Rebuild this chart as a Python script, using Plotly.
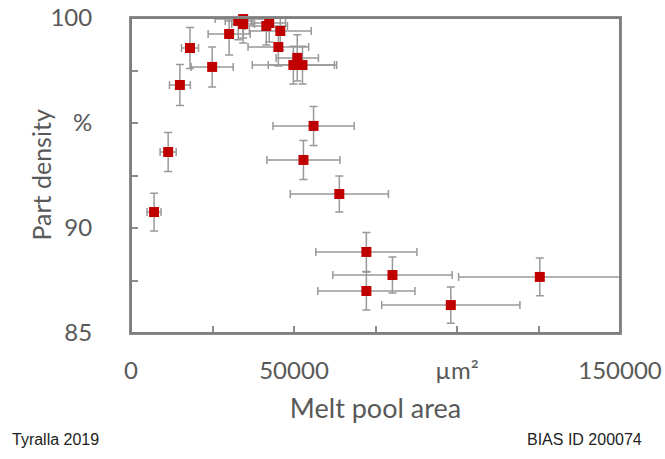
import plotly.graph_objects as go

melt_pool_area = [7070, 11400, 15000, 18100, 24900, 30100, 32900, 34400, 34400, 41500,
                  42400, 45800, 45200, 51000, 49800, 52600, 56000, 52900, 63900, 72200,
                  80200, 72200, 98100, 125400]
part_density = [90.76, 93.62, 96.81, 98.57, 97.67, 99.24, 99.86, 99.95, 99.71, 99.62,
                 99.76, 99.38, 98.62, 98.10, 97.76, 97.76, 94.86, 93.24, 91.62, 88.86,
                 87.76, 87.00, 86.33, 87.67]
area_err = [2150, 2460, 3200, 2600, 6450, 6450, 4000, 8600, 3500, 6500,
            5000, 9500, 9300, 6500, 12600, 10500, 12450, 11200, 15060, 15500,
            18300, 14900, 21200, 24900]
density_err = [0.9, 0.93, 0.98, 0.98, 0.95, 1.0, 0.9, 0.9, 0.9, 0.9,
               0.9, 0.9, 0.9, 1.1, 0.9, 0.9, 0.93, 0.93, 0.86, 0.93,
               0.86, 0.9, 0.86, 0.9]

x_ticks = [0, 25000, 50000, 75000, 100000, 125000, 150000]
x_ticktext = ["0", "", "50000", "", "µm²", "", "150000"]
y_ticks = [85, 87.5, 90, 92.5, 95, 97.5, 100]
y_ticktext = ["85", "", "90", "", "%", "", "100"]

grey = "#595959"
fig = go.Figure(go.Scatter(
    x=melt_pool_area, y=part_density, mode="markers",
    marker=dict(symbol="square", size=10, color="#C00000"),
    error_x=dict(type="data", array=area_err, color="#999999", thickness=1.5, width=4),
    error_y=dict(type="data", array=density_err, color="#999999", thickness=1.5, width=4),
    showlegend=False, cliponaxis=False,
))

axis_common = dict(showgrid=False, zeroline=False, showline=True, linecolor="#8c8c8c",
                   linewidth=2, mirror=True, ticks="inside", ticklen=7,
                   tickcolor="#8c8c8c", tickwidth=1.5, automargin=False,
                   ticklabeloverflow="allow",
                   tickfont=dict(family="Lato", size=24, color=grey))
fig.update_xaxes(range=[0, 150000], tickvals=x_ticks, ticktext=x_ticktext,
                 ticklabelstandoff=15,
                 title=dict(text="Melt pool area", font=dict(family="Lato", size=27, color=grey),
                            standoff=16),
                 **axis_common)
fig.update_yaxes(range=[85, 100], tickvals=y_ticks, ticktext=y_ticktext,
                 ticklabelstandoff=32, **axis_common)

# plot frame
fig.add_shape(type="rect", xref="paper", yref="paper", x0=0, x1=1, y0=0, y1=1,
              line=dict(color="#7f7f7f", width=2), layer="above")

fig.add_annotation(text="Part density", textangle=-90, xref="paper", yref="paper",
                   x=-0.186, y=0.5, xanchor="center", yanchor="middle", showarrow=False,
                   font=dict(family="Lato", size=25, color=grey))
fig.add_annotation(text="Tyralla 2019", xref="paper", yref="paper", x=-0.247, y=-0.338,
                   xanchor="left", yanchor="middle", showarrow=False,
                   font=dict(family="Liberation Sans", size=16, color="#222"))
fig.add_annotation(text="BIAS ID 200074", xref="paper", yref="paper", x=1.049, y=-0.338,
                   xanchor="right", yanchor="middle", showarrow=False,
                   font=dict(family="Liberation Sans", size=16, color="#222"))

fig.update_layout(width=665, height=459, margin=dict(l=131, r=45, t=18, b=126),
                  plot_bgcolor="white", paper_bgcolor="white")
fig.write_html("out.html", config={"displayModeBar": False},
               post_script="document.body.style.margin='0';")
